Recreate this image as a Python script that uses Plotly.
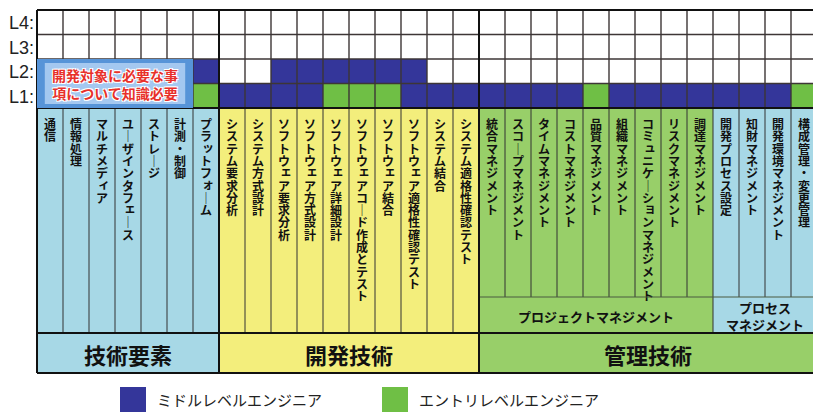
import plotly.graph_objects as go

# ---------------- data ----------------
level_labels = ["L4:", "L3:", "L2:", "L1:"]

categories = [
    "通信", "情報処理", "マルチメディア", "ユーザインタフェース", "ストレージ", "計測・制御", "プラットフォーム",
    "システム要求分析", "システム方式設計", "ソフトウェア要求分析", "ソフトウェア方式設計", "ソフトウェア詳細設計",
    "ソフトウェアコード作成とテスト", "ソフトウェア結合", "ソフトウェア適格性確認テスト", "システム結合",
    "システム適格性確認テスト",
    "統合マネジメント", "スコープマネジメント", "タイムマネジメント", "コストマネジメント", "品質マネジメント",
    "組織マネジメント", "コミュニケーションマネジメント", "リスクマネジメント", "調達マネジメント",
    "開発プロセス設定", "知財マネジメント", "開発環境マネジメント", "構成管理・変更管理",
]

group_names = ["技術要素", "開発技術", "管理技術"]
group_sizes = [7, 10, 13]
sub_group_names = ["プロジェクトマネジメント", "プロセス<br>マネジメント"]
sub_group_sizes = [9, 4]

# cell codes: 0 = none, 1 = middle level, 2 = entry level, 3 = note area
level_L4 = [0, 0, 0, 0, 0, 0, 0, 0, 0, 0, 0, 0, 0, 0, 0, 0, 0, 0, 0, 0, 0, 0, 0, 0, 0, 0, 0, 0, 0, 0]
level_L3 = [0, 0, 0, 0, 0, 0, 0, 0, 0, 0, 0, 0, 0, 0, 0, 0, 0, 0, 0, 0, 0, 0, 0, 0, 0, 0, 0, 0, 0, 0]
level_L2 = [3, 3, 3, 3, 3, 3, 1, 0, 0, 1, 1, 1, 1, 1, 1, 0, 0, 0, 0, 0, 0, 0, 0, 0, 0, 0, 0, 0, 0, 0]
level_L1 = [3, 3, 3, 3, 3, 3, 2, 1, 1, 1, 1, 2, 2, 2, 1, 1, 1, 1, 1, 1, 1, 2, 1, 1, 1, 1, 1, 1, 1, 2]

legend_names = ["ミドルレベルエンジニア", "エントリレベルエンジニア"]
note_text = "開発対象に必要な事<br>項について知識必要"

# ---------------- style ----------------
PAGE_W, PAGE_H = 821, 412
BODY_MARGIN = 8                       # default page margin around the plot div
W, H = PAGE_W - BODY_MARGIN, PAGE_H - BODY_MARGIN
LEFT_PX, COL_PX = 37, 26              # page-pixel position of first column, column width
TOP, ROW_H = 10, 24.5
TEXT_TOP, SUB_TOP, BAND_TOP, BAND_BOT = 108, 297, 333, 373

C_MID = "#34369a"
C_ENT = "#6fbf45"
C_NOTE = "#5794d8"
C_LBLUE = "#a7d8e6"
C_YEL = "#f3ee7c"
C_GRN = "#98cf69"
C_GRID = "#3d3636"
FONT = "Noto Sans CJK JP"
SMALL_KANA = "ァィゥェォッャュョ"

n = len(categories)
nrows = len(level_labels)
row_centers = [TOP + ROW_H * (k + 0.5) for k in range(nrows)]
level_bottom = TOP + ROW_H * nrows

fig = go.Figure()

# level grid as heatmap
fig.add_trace(go.Heatmap(
    x=[i + 0.5 for i in range(n)],
    y=row_centers,
    z=[level_L4, level_L3, level_L2, level_L1],
    zmin=0, zmax=3,
    colorscale=[[0, "#ffffff"], [0.1667, "#ffffff"], [0.1667, C_MID], [0.5, C_MID],
                [0.5, C_ENT], [0.8333, C_ENT], [0.8333, C_NOTE], [1, C_NOTE]],
    showscale=False, hoverinfo="skip",
))

shapes = []

# column area colours
group_colors = [C_LBLUE, C_YEL, C_GRN]
sub_colors = [C_GRN, C_LBLUE]
col_color = []
for g, s in enumerate(group_sizes):
    if g < 2:
        col_color += [group_colors[g]] * s
    else:
        for sg, ss in enumerate(sub_group_sizes):
            col_color += [sub_colors[sg]] * ss
mgmt_start = group_sizes[0] + group_sizes[1]

for i in range(n):
    bottom = SUB_TOP if i >= mgmt_start else BAND_TOP
    shapes.append(dict(type="rect", xref="x", yref="y", x0=i, x1=i + 1, y0=TEXT_TOP, y1=bottom,
                       fillcolor=col_color[i], line=dict(width=0), layer="below"))

# sub-group band
start = mgmt_start
for sg, ss in enumerate(sub_group_sizes):
    shapes.append(dict(type="rect", x0=start, x1=start + ss, y0=SUB_TOP, y1=BAND_TOP,
                       fillcolor=sub_colors[sg], line=dict(width=0), layer="below"))
    start += ss

# category band
start = 0
for g, s in enumerate(group_sizes):
    shapes.append(dict(type="rect", x0=start, x1=start + s, y0=BAND_TOP, y1=BAND_BOT,
                       fillcolor=group_colors[g], line=dict(width=0), layer="below"))
    start += s

# level grid lines
for k in range(nrows + 1):
    y = TOP + ROW_H * k
    shapes.append(dict(type="line", x0=0, x1=n, y0=y, y1=y, line=dict(color=C_GRID, width=1.4)))
for i in range(n + 1):
    shapes.append(dict(type="line", x0=i, x1=i, y0=TOP, y1=level_bottom, line=dict(color=C_GRID, width=1.4)))

# text area column separators
for i in range(1, n):
    bottom = SUB_TOP if i > mgmt_start else BAND_TOP
    if i == mgmt_start + sub_group_sizes[0]:
        bottom = BAND_TOP
    shapes.append(dict(type="line", x0=i, x1=i, y0=TEXT_TOP, y1=bottom, line=dict(color="#333333", width=1)))
shapes.append(dict(type="line", x0=mgmt_start, x1=n, y0=SUB_TOP, y1=SUB_TOP, line=dict(color="#4a5a40", width=1)))

# strong borders
bounds = [0]
for s in group_sizes:
    bounds.append(bounds[-1] + s)
for b in bounds:
    shapes.append(dict(type="line", x0=b, x1=b, y0=TOP, y1=BAND_BOT, line=dict(color="#111111", width=2)))
for y in [TOP, TEXT_TOP, BAND_TOP, BAND_BOT]:
    shapes.append(dict(type="line", x0=0, x1=n, y0=y, y1=y, line=dict(color="#111111", width=2)))

# note box (covers first six columns of L2/L1)
note_cols = sum(1 for v in level_L1 if v == 3)
shapes.append(dict(type="rect", x0=0, x1=note_cols, y0=TOP + ROW_H * 2, y1=level_bottom,
                   fillcolor=C_NOTE, line=dict(width=0)))
shapes.append(dict(type="rect", x0=0.3, x1=note_cols - 0.3, y0=TOP + ROW_H * 2 + 4, y1=level_bottom - 4,
                   fillcolor="rgba(190,218,248,0.75)", line=dict(width=0)))

# legend squares
leg_px = [120, 382]
leg_colors = [C_MID, C_ENT]
for px, c in zip(leg_px, leg_colors):
    x0 = (px - LEFT_PX) / COL_PX
    shapes.append(dict(type="rect", x0=x0, x1=x0 + 1, y0=387, y1=414, fillcolor=c,
                       line=dict(width=0)))

# vertical column labels (one character per position, upright like tategaki)
y_start, step = 126, 12.3
cx, cy, ct = [], [], []
for i, lab in enumerate(categories):
    for j, ch in enumerate(lab):
        small = ch in SMALL_KANA
        cx.append(i + 0.5 + (0.08 if small else 0))
        cy.append(y_start + j * step - (2 if small else 0))
        ct.append("｜" if ch == "ー" else ch)
fig.add_trace(go.Scatter(x=cx, y=cy, text=ct, mode="text", hoverinfo="skip",
                         textfont=dict(family=FONT, size=12, color="#111111", weight=700),
                         showlegend=False))

annotations = []
# level labels
for k, lab in enumerate(level_labels):
    annotations.append(dict(x=-0.02, y=row_centers[k] + 1, text=lab, showarrow=False, xanchor="right",
                            yanchor="middle", font=dict(family="Liberation Sans", size=18, color="#222222")))
# note text
annotations.append(dict(x=note_cols / 2, y=TOP + ROW_H * 3, text=note_text, showarrow=False,
                        xanchor="center", yanchor="middle",
                        font=dict(family=FONT, size=14, color="#e8302a", weight=700,
                                  shadow="1px 1px 0 #fff, -1px -1px 0 #fff, 1px -1px 0 #fff, -1px 1px 0 #fff"),
                        align="center"))
# sub-group labels
start = mgmt_start
for sg, ss in enumerate(sub_group_sizes):
    annotations.append(dict(x=start + ss / 2, y=(SUB_TOP + BAND_TOP) / 2 + 1, text=sub_group_names[sg],
                            showarrow=False, xanchor="center", yanchor="middle", align="center",
                            font=dict(family=FONT, size=13, color="#111111", weight=700)))
    start += ss
# group labels
start = 0
for g, s in enumerate(group_sizes):
    annotations.append(dict(x=start + s / 2, y=(BAND_TOP + BAND_BOT) / 2 + 1, text=group_names[g],
                            showarrow=False, xanchor="center", yanchor="middle",
                            font=dict(family=FONT, size=22, color="#111111", weight=700)))
    start += s
# legend texts
for px, name in zip(leg_px, legend_names):
    x0 = (px - LEFT_PX) / COL_PX
    annotations.append(dict(x=x0 + 1.35, y=399, text=name, showarrow=False, xanchor="left",
                            yanchor="middle", font=dict(family=FONT, size=15, color="#222222")))

fig.update_layout(
    width=W, height=H,
    margin=dict(l=0, r=0, t=0, b=0),
    paper_bgcolor="white", plot_bgcolor="white",
    xaxis=dict(range=[(BODY_MARGIN - LEFT_PX) / COL_PX, (PAGE_W - LEFT_PX) / COL_PX],
               visible=False, fixedrange=True),
    yaxis=dict(range=[PAGE_H, BODY_MARGIN], visible=False, fixedrange=True),
    shapes=shapes, annotations=annotations, showlegend=False,
)

fig.write_html("out.html")
